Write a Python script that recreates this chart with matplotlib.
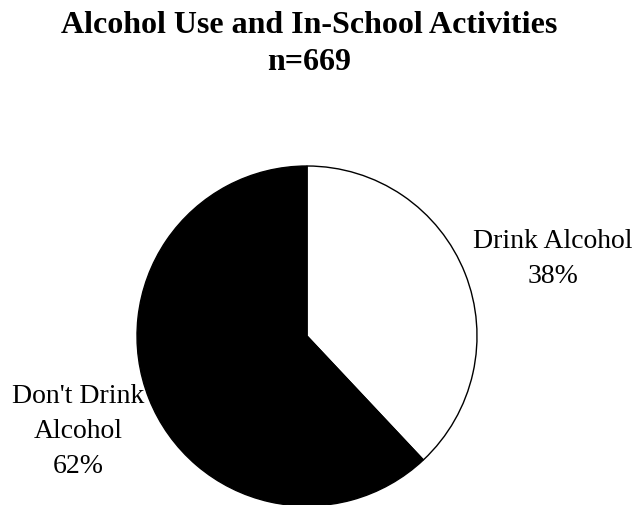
import matplotlib.pyplot as plt

plt.rcParams['font.family'] = ['Liberation Serif', 'DejaVu Serif']

labels = ["Drink Alcohol", "Don't Drink\nAlcohol"]
values = [38, 62]
colors = ['white', 'black']
title = "Alcohol Use and In-School Activities\nn=669"

W, H = 637, 506
fig = plt.figure(figsize=(W / 100, H / 100), dpi=100)
ax = fig.add_axes([0, 0, 1, 1])

# pie centre and radius in pixels
cx, cy, r = 307, 337, 170

ax.pie(values, colors=colors, startangle=90, counterclock=False,
       radius=1, center=(0, 0), frame=True,
       wedgeprops=dict(edgecolor='black', linewidth=1))
ax.set_xlim(-cx / r, (W - cx) / r)
ax.set_ylim(-(H - cy) / r, cy / r)
ax.set_aspect('equal')
ax.axis('off')

# label anchors (baseline of the last line), in pie radius units
label_pos = [(1.447, 0.318), (-1.347, -0.80)]
for lab, v, (x, y) in zip(labels, values, label_pos):
    ax.text(x, y, f"{lab}\n{v}%", ha='center', va='baseline',
            fontsize=20, linespacing=1.52)

fig.text(309 / W, 1 - 70 / H, title, ha='center', va='baseline',
         fontsize=23, fontweight='bold', linespacing=1.35)

fig.savefig('out.png', dpi=100)
